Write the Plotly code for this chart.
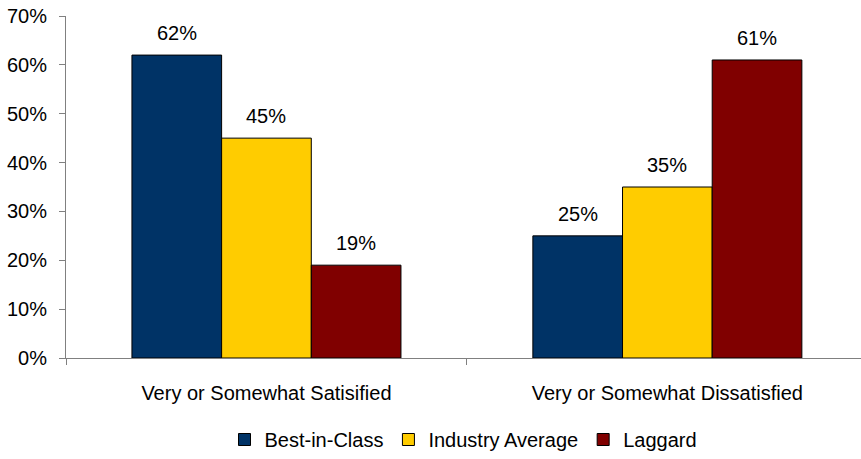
import plotly.graph_objects as go

categories = ["Very or Somewhat Satisified", "Very or Somewhat Dissatisfied"]
series_names = ["Best-in-Class", "Industry Average", "Laggard"]
best_in_class = [62, 25]
industry_average = [45, 35]
laggard = [19, 61]
y_ticks = [0, 10, 20, 30, 40, 50, 60, 70]

colors = ["#003366", "#FFCC00", "#800000"]
values = [best_in_class, industry_average, laggard]

W, H = 861, 459
ml, mr, mt, mb = 66, 0, 16, 101
x_range = [-0.5, 1.483]
bargap = 0.329
FONT = "Liberation Sans, Arial, sans-serif"
FS = 20

fig = go.Figure()
for name, vals, col in zip(series_names, values, colors):
    fig.add_trace(go.Bar(
        x=categories, y=vals, name=name,
        marker=dict(color=col, line=dict(color="#000000", width=1)),
    ))

# data labels above bars
plot_w = W - ml - mr
px_per_cat = plot_w / (x_range[1] - x_range[0])
bar_w = px_per_cat * (1 - bargap) / len(series_names)
for i, vals in enumerate(values):
    shift = (i - (len(series_names) - 1) / 2) * bar_w
    for c, v in zip(categories, vals):
        fig.add_annotation(x=c, y=v, text=f"{v}%", showarrow=False,
                           xshift=shift, yshift=22, font=dict(size=FS, color="#000000"))

fig.update_layout(
    width=W, height=H,
    margin=dict(l=ml, r=mr, t=mt, b=mb),
    paper_bgcolor="white", plot_bgcolor="white",
    font=dict(family=FONT, size=FS, color="#000000"),
    barmode="group", bargap=bargap, bargroupgap=0,
    showlegend=True,
    legend=dict(orientation="h", x=0.5, xanchor="center", y=-0.24, yanchor="middle",
                font=dict(size=FS), itemwidth=30, tracegroupgap=0),
    xaxis=dict(range=x_range, showline=True, linecolor="#808080", linewidth=1,
               ticks="outside", tickson="boundaries", ticklen=6, tickcolor="#808080",
               showgrid=False, ticklabelstandoff=17, fixedrange=True),
    yaxis=dict(range=[0, 70], tickvals=y_ticks, ticktext=[f"{t}%" for t in y_ticks],
               showline=True, linecolor="#808080", linewidth=1,
               ticks="outside", ticklen=6, tickcolor="#808080",
               showgrid=False, zeroline=False, ticklabelstandoff=8, fixedrange=True),
)

fig.write_html("out.html")
